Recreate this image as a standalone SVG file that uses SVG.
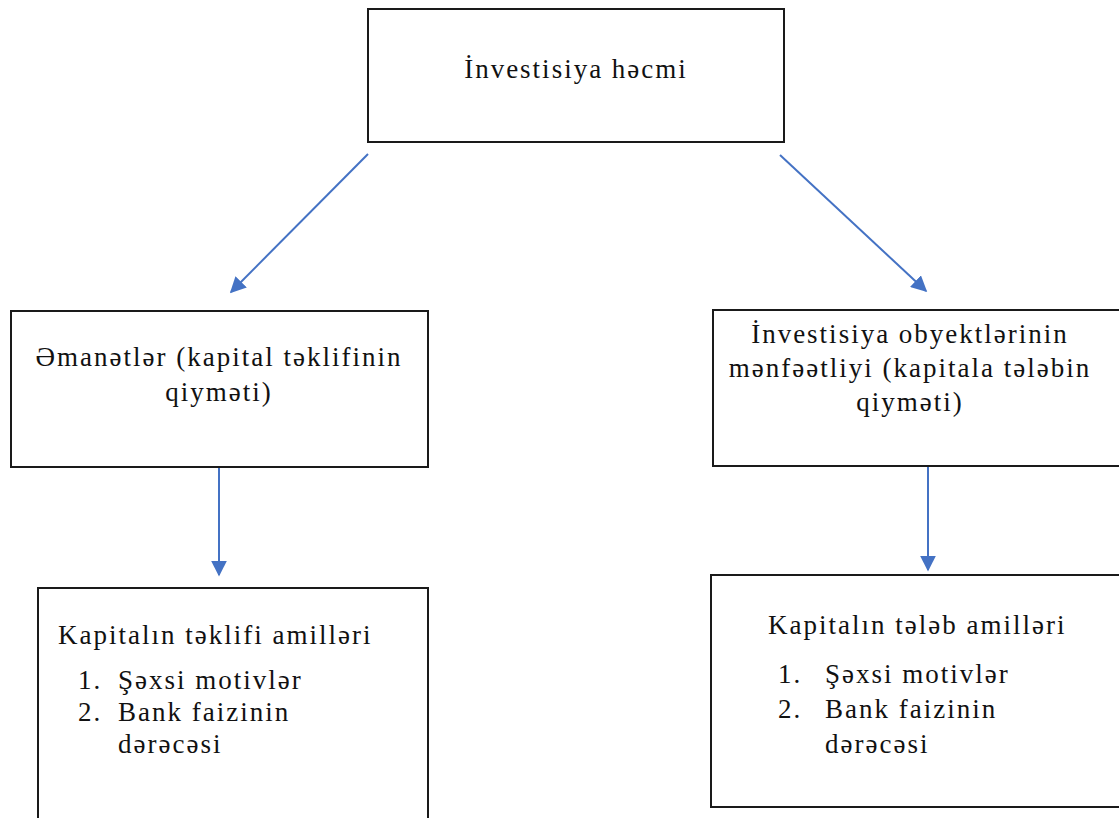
<svg xmlns="http://www.w3.org/2000/svg" width="1119" height="818" viewBox="0 0 1119 818">
<style>
.box{fill:#fff;stroke:#1a1a1a;stroke-width:2}
text{font-family:'Liberation Serif','Times New Roman',serif;font-size:27px;letter-spacing:2px;fill:#111}
.c{text-anchor:middle}
.arr{stroke:#4472C4;stroke-width:2;fill:none}
</style>
<defs>
<marker id="ah2" viewBox="0 0 10 10" refX="9" refY="5" markerWidth="8" markerHeight="8" orient="auto">
<path d="M0,0 L10,5 L0,10 z" fill="#4472C4"/>
</marker>
</defs>
<g id="connectors">
<line class="arr" x1="368" y1="154" x2="231" y2="292" marker-end="url(#ah2)"/>
<line class="arr" x1="780" y1="155" x2="926" y2="291" marker-end="url(#ah2)"/>
<line class="arr" x1="219" y1="468" x2="219" y2="575" marker-end="url(#ah2)"/>
<line class="arr" x1="928" y1="466" x2="928" y2="570" marker-end="url(#ah2)"/>
</g>
<g id="node-top">
<rect class="box" x="368" y="9" width="416" height="133"/>
<text class="c" x="576" y="78">İnvestisiya həcmi</text>
</g>
<g id="node-left">
<rect class="box" x="11" y="311" width="417" height="156"/>
<text class="c" x="219" y="366">Əmanətlər (kapital təklifinin</text>
<text class="c" x="219" y="401">qiymәti)</text>
</g>
<g id="node-right">
<rect class="box" x="713" y="310" width="412" height="156"/>
<text class="c" x="910" y="343">İnvestisiya obyektlərinin</text>
<text class="c" x="910" y="377">mənfəətliyi (kapitala tələbin</text>
<text class="c" x="910" y="411">qiymәti)</text>
</g>
<g id="node-bottom-left">
<rect class="box" x="38" y="588" width="390" height="240"/>
<text x="58" y="644">Kapitalın təklifi amilləri</text>
<text x="78" y="689">1.</text>
<text x="118" y="689">Şəxsi motivlər</text>
<text x="78" y="721">2.</text>
<text x="118" y="721">Bank faizinin</text>
<text x="118" y="753">dərəcəsi</text>
</g>
<g id="node-bottom-right">
<rect class="box" x="711" y="575" width="414" height="232"/>
<text x="768" y="634">Kapitalın tələb amilləri</text>
<text x="778" y="683">1.</text>
<text x="825" y="683">Şəxsi motivlər</text>
<text x="778" y="718">2.</text>
<text x="825" y="718">Bank faizinin</text>
<text x="825" y="753">dərəcəsi</text>
</g>
</svg>
